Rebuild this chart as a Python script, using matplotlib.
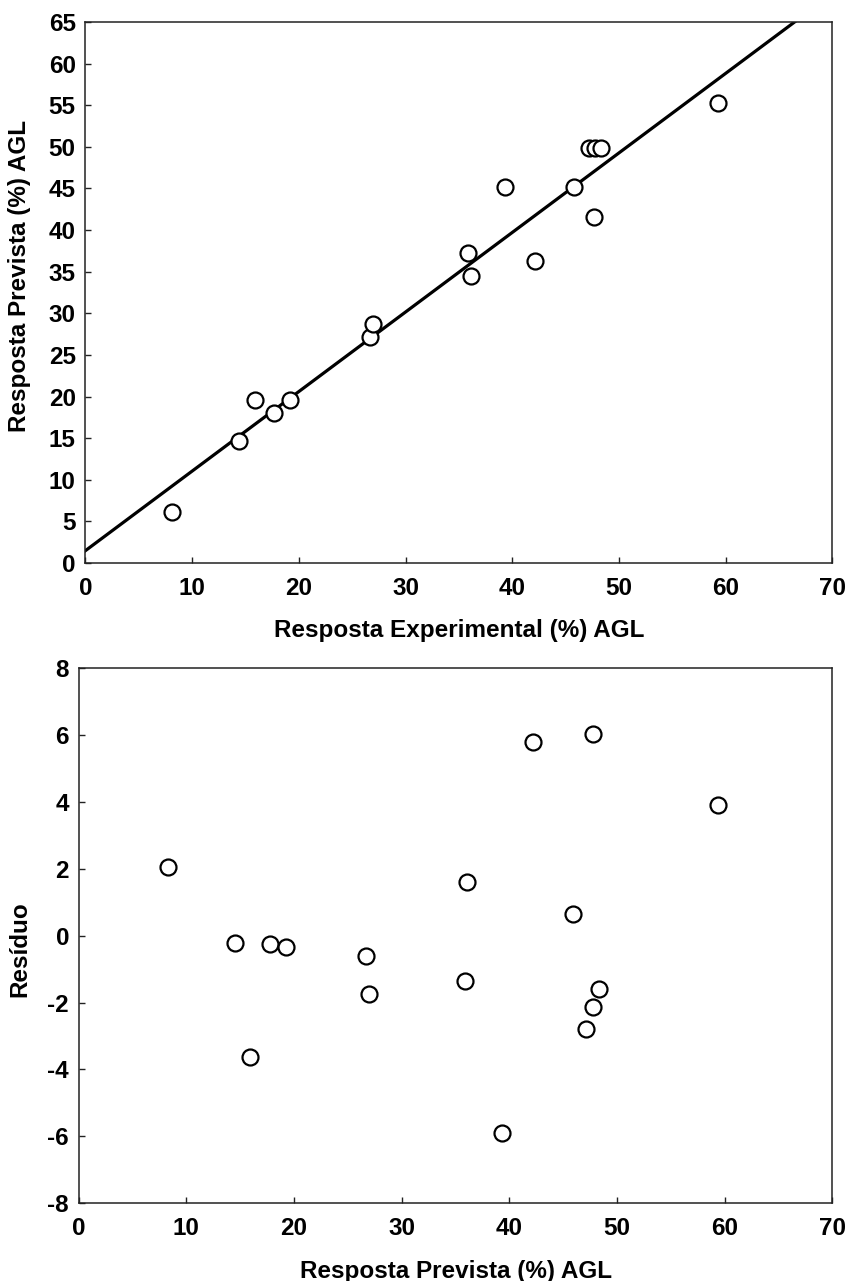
import matplotlib
matplotlib.use("Agg")
import matplotlib.pyplot as plt
import numpy as np

# valores
exp_top = [8.15, 14.42, 15.9, 17.71, 19.18, 26.67, 26.93, 35.89, 36.11, 39.33,
           42.11, 45.82, 47.14, 47.67, 47.79, 48.27, 59.32]
prev_top = [6.16, 14.69, 19.58, 17.98, 19.58, 27.19, 28.68, 37.21, 34.52, 45.21,
            36.32, 45.14, 49.92, 41.61, 49.92, 49.9, 55.23]

# reta de ajuste (intercepto e inclinacao)
line_intercept = 1.48
line_slope = 0.956

x_res = [8.26, 14.55, 15.94, 17.77, 19.23, 26.72, 26.94, 35.92, 36.11, 39.33,
         42.15, 45.87, 47.14, 47.73, 47.79, 48.31, 59.34]
residuos = [2.06, -0.23, -3.64, -0.26, -0.35, -0.6, -1.73, -1.35, 1.59, -5.89,
            5.78, 0.66, -2.8, 6.02, -2.14, -1.6, 3.92]

plt.rcParams['font.family'] = ['Liberation Sans', 'DejaVu Sans']
plt.rcParams['font.weight'] = 'bold'
plt.rcParams['axes.unicode_minus'] = False

fs = 17.5

fig = plt.figure(figsize=(8.48, 12.81), dpi=100)
ax1 = fig.add_axes([0.1007, 0.5605, 0.881, 0.4223])
ax2 = fig.add_axes([0.0929, 0.0607, 0.8886, 0.4178])

def style(ax):
    for s in ax.spines.values():
        s.set_linewidth(1.1)
        s.set_color('#222222')
    ax.tick_params(direction='in', length=4, width=1.0, color='#222222',
                   labelsize=fs, top=False, right=False)
    ax.tick_params(axis='x', pad=10)
    ax.tick_params(axis='y', pad=7)
    for lab in ax.get_xticklabels() + ax.get_yticklabels():
        lab.set_fontweight('bold')

xs = np.array([0, 70])
ax1.plot(xs, line_intercept + line_slope * xs, color='black', lw=2.3, zorder=2)
ax1.plot(exp_top, prev_top, 'o', mfc='white', mec='black', ms=11.5, mew=1.6,
         linestyle='none', zorder=3)
ax1.set_xlim(0, 70)
ax1.set_ylim(0, 65)
ax1.set_xticks(range(0, 71, 10))
ax1.set_yticks(range(0, 66, 5))
style(ax1)
ax1.set_xlabel('Resposta Experimental (%) AGL', fontsize=fs, fontweight='bold', labelpad=14)
ax1.set_ylabel('Resposta Prevista (%) AGL', fontsize=fs, fontweight='bold')
ax1.yaxis.set_label_coords(-0.073, 0.53)

ax2.plot(x_res, residuos, 'o', mfc='white', mec='black', ms=11.5, mew=1.6,
         linestyle='none')
ax2.set_xlim(0, 70)
ax2.set_ylim(-8, 8)
ax2.set_xticks(range(0, 71, 10))
ax2.set_yticks(range(-8, 9, 2))
style(ax2)
ax2.set_xlabel('Resposta Prevista (%) AGL', fontsize=fs, fontweight='bold', labelpad=14)
ax2.set_ylabel('Resíduo', fontsize=fs, fontweight='bold')
ax2.yaxis.set_label_coords(-0.063, 0.475)

fig.savefig('out.png', dpi=100)
